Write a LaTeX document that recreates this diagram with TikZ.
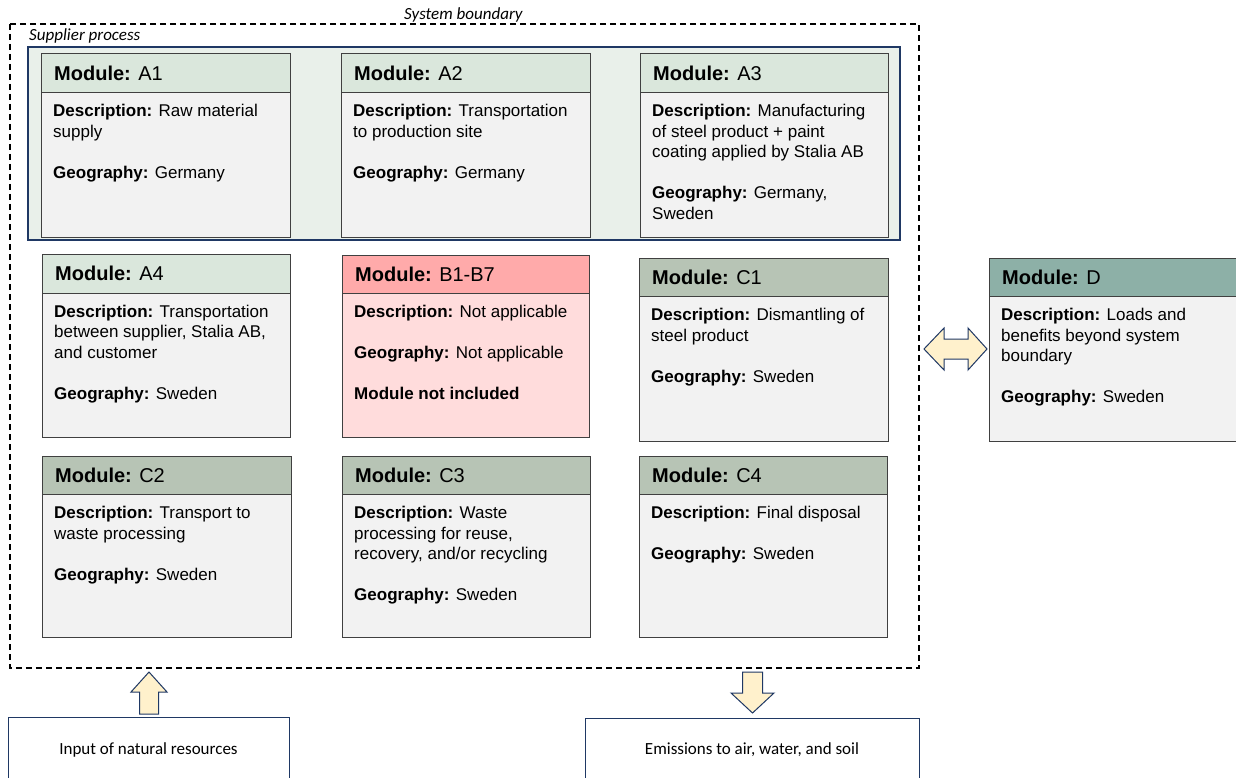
\documentclass[tikz,border=0pt]{standalone}
\usepackage{fontspec}
\setmainfont{Liberation Sans}
\newfontfamily\calfont{Carlito}
\usetikzlibrary{calc}
\definecolor{hdrA}{RGB}{218,231,220}
\definecolor{hdrC}{RGB}{183,196,181}
\definecolor{hdrD}{RGB}{141,176,167}
\definecolor{hdrB}{RGB}{255,170,170}
\definecolor{bodyB}{RGB}{255,220,220}
\definecolor{bodyG}{RGB}{242,242,242}
\definecolor{supfill}{RGB}{233,240,234}
\definecolor{navy}{RGB}{31,56,100}
\definecolor{arrowfill}{RGB}{255,241,204}
\definecolor{modline}{RGB}{64,64,64}
\tikzset{
  modbody/.style={draw=modline, line width=1pt, inner sep=0pt, outer sep=0pt, rectangle},
  modhead/.style={draw=modline, line width=1pt, inner sep=0pt, outer sep=0pt, rectangle, minimum height=38.5pt},
  headtext/.style={inner sep=0pt, font=\fontsize{20}{24}\selectfont},
  bodytext/.style={inner sep=0pt, align=left, font=\fontsize{17}{20.5}\selectfont},
  blockarrow/.style={draw=navy, fill=arrowfill, line width=1pt, line join=miter},
  outbox/.style={draw=navy, line width=1.2pt, fill=white, inner sep=0pt, rectangle},
  outtext/.style={inner sep=0pt, font=\calfont\fontsize{17}{20}\selectfont},
  labeltext/.style={inner sep=0pt, font=\calfont\itshape\fontsize{17}{20}\selectfont},
}
% #1 name, #2 top-left, #3 width, #4 height, #5 header fill, #6 body fill, #7 id, #8 body text
\newcommand\modul[8]{%
  \node[modbody, fill=#6, minimum width=#3pt, minimum height=#4pt, anchor=north west] (#1) at #2 {};
  \node[modhead, fill=#5, minimum width=#3pt, anchor=north west] (#1h) at (#1.north west) {};
  \node[headtext, anchor=west] (#1t) at ($(#1h.west)+(13,0)$) {\textbf{Module:} #7};
  \node[bodytext, anchor=north west] (#1b) at ($(#1h.south west)+(12,11.5)$) {#8};
}
\begin{document}
\begin{tikzpicture}[x=1pt, y=-1pt]
\useasboundingbox (0,0) rectangle (1236,778);
\fill[white] (0,0) rectangle (1236,778);

% system boundary
\draw[line width=1.2pt, dash pattern=on 6pt off 4pt] (10,24) rectangle (919,668);
\node[labeltext, anchor=base west] (sysl) at (404,20) {System boundary};

% supplier process
\draw[draw=navy, fill=supfill, line width=1.6pt] (28,47) rectangle (900,240);
\node[labeltext, anchor=base west] (supl) at (29,41) {Supplier process};

\modul{a1}{(41,54)}{249}{183}{hdrA}{bodyG}{A1}{\textbf{Description:} Raw material\\supply\\[20.5pt]\textbf{Geography:} Germany}
\modul{a2}{(341,54)}{249}{183}{hdrA}{bodyG}{A2}{\textbf{Description:} Transportation\\to production site\\[20.5pt]\textbf{Geography:} Germany}
\modul{a3}{(640,54)}{248}{183}{hdrA}{bodyG}{A3}{\textbf{Description:} Manufacturing\\of steel product + paint\\coating applied by Stalia AB\\[20.5pt]\textbf{Geography:} Germany,\\Sweden}

\modul{a4}{(42,254.5)}{248}{183}{hdrA}{bodyG}{A4}{\textbf{Description:} Transportation\\between supplier, Stalia AB,\\and customer\\[20.5pt]\textbf{Geography:} Sweden}
\modul{b}{(342,255)}{247}{182}{hdrB}{bodyB}{B1-B7}{\textbf{Description:} Not applicable\\[20.5pt]\textbf{Geography:} Not applicable\\[20.5pt]\textbf{Module not included}}
\modul{c1}{(639,258)}{249}{183}{hdrC}{bodyG}{C1}{\textbf{Description:} Dismantling of\\steel product\\[20.5pt]\textbf{Geography:} Sweden}
\modul{d}{(989,258)}{260}{183}{hdrD}{bodyG}{D}{\textbf{Description:} Loads and\\benefits beyond system\\boundary\\[20.5pt]\textbf{Geography:} Sweden}

\modul{c2}{(42,456)}{249}{181}{hdrC}{bodyG}{C2}{\textbf{Description:} Transport to\\waste processing\\[20.5pt]\textbf{Geography:} Sweden}
\modul{c3}{(342,456)}{248}{181}{hdrC}{bodyG}{C3}{\textbf{Description:} Waste\\processing for reuse,\\recovery, and/or recycling\\[20.5pt]\textbf{Geography:} Sweden}
\modul{c4}{(639,456)}{248}{181}{hdrC}{bodyG}{C4}{\textbf{Description:} Final disposal\\[20.5pt]\textbf{Geography:} Sweden}

% double arrow between C1 and D
\draw[blockarrow] (924,349) -- (944,328) -- (944,339) -- (968,339) -- (968,328) -- (987,349)
  -- (968,370) -- (968,359) -- (944,359) -- (944,370) -- cycle;

% bottom boxes
\node[outbox, minimum width=281pt, minimum height=80pt, anchor=north west] (input) at (8,717) {};
\node[outtext] (inputt) at (148.5,750) {Input of natural resources};
\node[outbox, minimum width=334pt, minimum height=80pt, anchor=north west] (emis) at (585,718) {};
\node[outtext] (emist) at (752,750) {Emissions to air, water, and soil};

% up arrow (input)
\draw[blockarrow] (149,672) -- (167,692) -- (158.5,692) -- (158.5,714) -- (139.5,714) -- (139.5,692) -- (131,692) -- cycle;
% down arrow (emissions)
\draw[blockarrow] (752.5,713) -- (774,693) -- (762.5,693) -- (762.5,672) -- (742.5,672) -- (742.5,693) -- (731,693) -- cycle;
\end{tikzpicture}
\end{document}
